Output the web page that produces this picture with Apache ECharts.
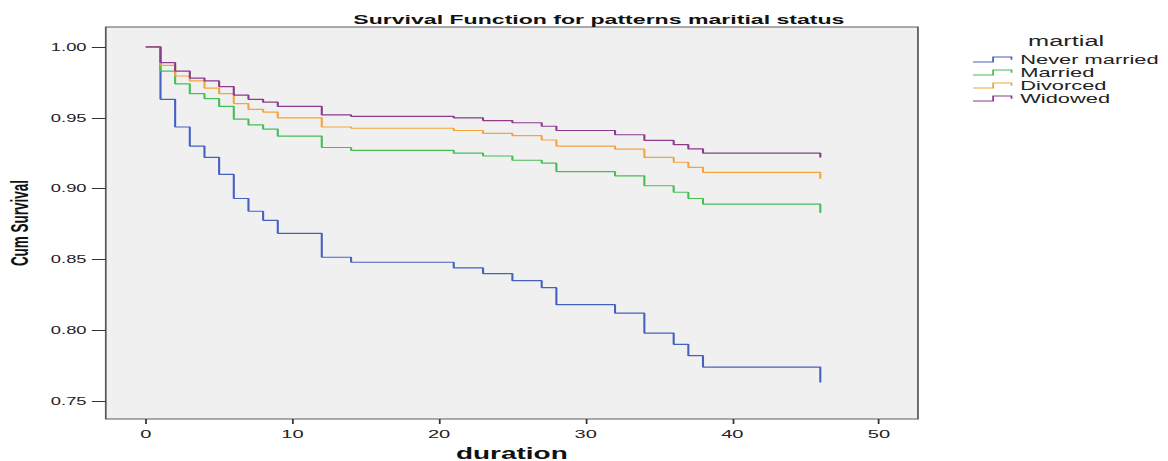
<!DOCTYPE html>
<html>
<head>
<meta charset="utf-8">
<title>Survival Function for patterns maritial status</title>
<script src="https://cdn.jsdelivr.net/npm/echarts@6/dist/echarts.min.js"></script>
<style>
  html, body { margin: 0; padding: 0; background: #fff; overflow: hidden; }
  /* the original figure is stretched sideways, so draw narrow and widen it */
  #survival-chart { width: 668px; height: 461px; transform: scaleX(1.7485); transform-origin: 0 0; }
</style>
</head>
<body>
<div id="survival-chart"></div>
<script>
// duration at which each step happens
var durations = [0, 1, 2, 3, 4, 5, 6, 7, 8, 9, 12, 14, 21, 23, 25, 27, 28, 32, 34, 36, 37, 38, 46];

// cumulative survival after each step
var neverMarried = [1.000, 0.963, 0.9435, 0.930, 0.922, 0.910, 0.893, 0.884, 0.8776, 0.8684, 0.8515, 0.848, 0.844, 0.840, 0.835, 0.830, 0.818, 0.812, 0.798, 0.790, 0.782, 0.774, 0.763];
var married = [1.000, 0.983, 0.974, 0.967, 0.9635, 0.958, 0.949, 0.945, 0.942, 0.937, 0.929, 0.927, 0.925, 0.923, 0.920, 0.918, 0.912, 0.909, 0.902, 0.8974, 0.893, 0.889, 0.883];
var divorced = [1.000, 0.987, 0.9795, 0.976, 0.971, 0.967, 0.960, 0.956, 0.954, 0.950, 0.9435, 0.9426, 0.941, 0.939, 0.9374, 0.9343, 0.930, 0.9278, 0.922, 0.9186, 0.915, 0.9115, 0.907];
var widowed = [1.000, 0.989, 0.983, 0.978, 0.976, 0.972, 0.966, 0.963, 0.961, 0.958, 0.952, 0.951, 0.950, 0.948, 0.9465, 0.944, 0.941, 0.938, 0.934, 0.931, 0.928, 0.925, 0.922];

var groupNames = ['Never married', 'Married', 'Divorced', 'Widowed'];
var xTicks = [0, 10, 20, 30, 40, 50];
var yTicks = [0.75, 0.80, 0.85, 0.90, 0.95, 1.00];

var groupColors = ['#4461c2', '#45bf55', '#f8a23a', '#8b3a8c'];
var stepIcon = 'path://M0,9 L12,9 L12,0 L23,0 L23,5';

function pairs(values) {
  return durations.map(function (t, i) { return [t, values[i]]; });
}

var groupValues = [neverMarried, married, divorced, widowed];

var series = groupNames.map(function (name, i) {
  return {
    name: name,
    type: 'line',
    step: 'end',
    showSymbol: false,
    symbol: 'none',
    data: pairs(groupValues[i]),
    color: groupColors[i],
    lineStyle: { color: groupColors[i], width: 1.2 },
    emphasis: { disabled: true }
  };
});

var chart = echarts.init(document.getElementById('survival-chart'), null, { renderer: 'svg' });

var options = {
  animation: false,
  textStyle: { fontFamily: 'Liberation Sans, Arial, sans-serif' },
  title: [{
    text: 'Survival Function for patterns maritial status',
    left: 337.5,
    top: 8,
    textAlign: 'center',
    textStyle: { fontSize: 13.2, fontWeight: 'bold', color: '#111' }
  }, {
    text: 'martial',
    left: 583,
    top: 28,
    textStyle: { fontSize: 14.5, fontWeight: 'normal', color: '#222' }
  }],
  legend: {
    orient: 'vertical',
    left: 556,
    top: 53,
    padding: 0,
    itemGap: 0,
    itemWidth: 22,
    itemHeight: 5,
    symbolKeepAspect: false,
    textStyle: { fontSize: 12.5, color: '#222' },
    data: groupNames.map(function (name, i) {
      return {
        name: name,
        icon: stepIcon,
        itemStyle: { color: 'transparent', borderColor: groupColors[i], borderWidth: 1 }
      };
    })
  },
  grid: {
    left: 60.5,
    right: 143,
    top: 27,
    bottom: 42,
    containLabel: false,
    outerBoundsMode: 'none',
    show: true,
    backgroundColor: '#f0f0f0',
    borderColor: '#5a5a5a',
    borderWidth: 1
  },
  xAxis: {
    type: 'value',
    min: -2.73,
    max: 52.66,
    name: 'duration',
    nameLocation: 'middle',
    nameGap: 23,
    nameTextStyle: { fontSize: 16, lineHeight: 16, fontWeight: 'bold', color: '#111' },
    axisLine: { show: false, onZero: false },
    splitLine: { show: false },
    axisTick: { show: true, length: 5, customValues: xTicks, lineStyle: { color: '#333' } },
    axisLabel: { customValues: xTicks, margin: 9, fontSize: 11.5, color: '#222' }
  },
  yAxis: {
    type: 'value',
    min: 0.7373,
    max: 1.0141,
    name: 'Cum Survival',
    nameLocation: 'middle',
    nameGap: 41,
    nameTextStyle: { fontSize: 13.5, fontWeight: 'bold', color: '#111' },
    axisLine: { show: false, onZero: false },
    splitLine: { show: false },
    axisTick: { show: true, length: 8, customValues: yTicks, lineStyle: { color: '#333' } },
    axisLabel: {
      customValues: yTicks,
      margin: 11,
      fontSize: 10.5,
      color: '#222',
      formatter: function (v) { return v.toFixed(2); }
    }
  },
  series: series
};

chart.setOption(options);
</script>
</body>
</html>
